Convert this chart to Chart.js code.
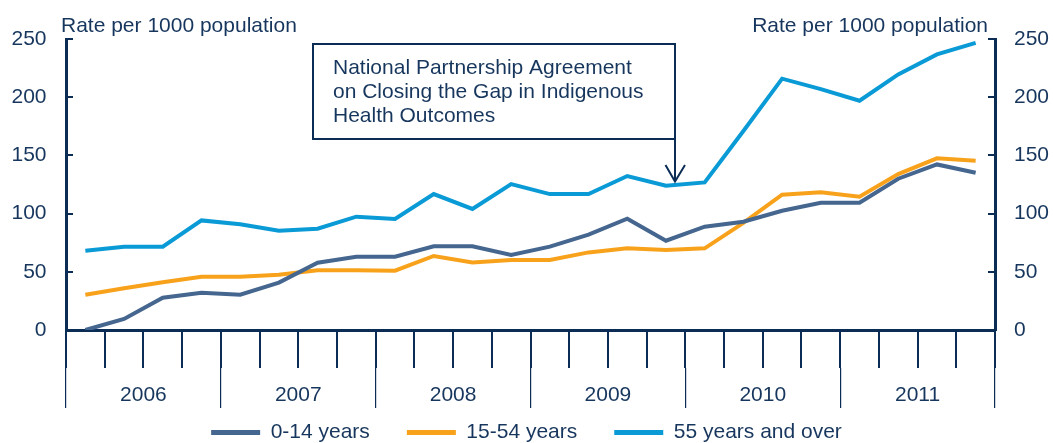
<!DOCTYPE html>
<html>
<head>
<meta charset="utf-8">
<script src="https://cdn.jsdelivr.net/npm/chart.js@4/dist/chart.umd.min.js"></script>
<style>
  html, body { margin: 0; padding: 0; background: #fff; }
  #vis { display: block; }
</style>
</head>
<body>
<canvas id="vis" width="1053" height="443"></canvas>
<script>
// hospitalisation rates, quarterly
const years = ['2006', '2007', '2008', '2009', '2010', '2011'];
const quarters = years.flatMap(y => ['Q1', 'Q2', 'Q3', 'Q4'].map(q => q + ' ' + y));
const yTicks = [0, 50, 100, 150, 200, 250];

const age0to14 = [0, 9.5, 27.8, 32, 30.3, 40.7, 57.8, 63,
                  63, 72, 72, 64.5, 71.6, 82, 95.6, 76.7,
                  88.8, 93, 102.5, 109.4, 109.4, 130, 142.3, 135.2];
const age15to54 = [30.3, 35.8, 41, 45.8, 45.8, 47.5, 51.3, 51.3,
                   51, 63.6, 58.1, 60.1, 60.1, 66.7, 70.2, 68.7,
                   70.2, 92, 116.3, 118.3, 114.5, 134, 147.5, 145.5];
const age55plus = [68.1, 71.6, 71.6, 94.2, 90.8, 85.3, 87, 97.4,
                   95.4, 116.8, 104, 125.4, 116.8, 116.8, 132.3, 124,
                   126.8, 171, 216, 207, 197, 219.7, 236.8, 246.8];

const axisTitle = 'Rate per 1000 population';
const noteLines = ['National Partnership Agreement', 'on Closing the Gap in Indigenous', 'Health Outcomes'];

const NAVY = '#0b2d55';
const TEXT = '#17365d';
const FONT = "'Liberation Sans', Arial, sans-serif";

Chart.defaults.font.family = FONT;
Chart.defaults.font.size = 21;
Chart.defaults.color = TEXT;

function series(label, data, color) {
    return {
        label: label,
        data: data,
        borderColor: color,
        backgroundColor: color,
        borderWidth: 4,
        pointRadius: 0,
        tension: 0,
        fill: false
    };
}

// axis titles and the callout box with its arrow
const extras = {
    id: 'extras',
    afterDraw(chart) {
        const c = chart.ctx;
        c.save();
        c.fillStyle = TEXT;
        c.font = '21px ' + FONT;
        c.textBaseline = 'alphabetic';
        c.textAlign = 'left';
        c.fillText(axisTitle, 61, 32);
        c.textAlign = 'right';
        c.fillText(axisTitle, 988, 32);

        c.strokeStyle = NAVY;
        c.lineWidth = 2;
        c.strokeRect(313, 44, 362, 95);
        c.beginPath();
        c.moveTo(675, 139);
        c.lineTo(675, 181);
        c.moveTo(665.5, 165);
        c.lineTo(675, 181.5);
        c.lineTo(685, 165);
        c.stroke();

        c.textAlign = 'left';
        noteLines.forEach((t, i) => c.fillText(t, 333, 73.5 + i * 24.2));
        c.restore();
    }
};

const ctx = document.getElementById('vis').getContext('2d');
const myChart = new Chart(ctx, {
    type: 'line',
    data: {
        labels: quarters,
        datasets: [
            series('0-14 years', age0to14, '#45668e'),
            series('15-54 years', age15to54, '#f8a21c'),
            series('55 years and over', age55plus, '#0a9ad6')
        ]
    },
    options: {
        responsive: false,
        animation: false,
        layout: { padding: { top: 39, left: 0, right: 0, bottom: 0 } },
        scales: {
            x: {
                type: 'category',
                offset: true,
                ticks: { display: false },
                grid: {
                    offset: true,
                    drawOnChartArea: false,
                    drawTicks: true,
                    tickLength: 38,
                    color: NAVY,
                    lineWidth: 2
                },
                border: { display: true, color: NAVY, width: 3 },
                afterFit(s) { s.height = 38; }
            },
            // year row: long separators, labels pushed down between them
            x2: {
                type: 'category',
                position: 'bottom',
                labels: years,
                offset: true,
                ticks: { mirror: true, padding: -40, color: TEXT },
                grid: {
                    offset: true,
                    drawOnChartArea: false,
                    drawTicks: true,
                    tickLength: 40,
                    color: NAVY,
                    lineWidth: 1.2
                },
                border: { display: false },
                afterFit(s) { s.height = 17; }
            },
            y: {
                position: 'left',
                min: 0,
                max: 250,
                afterBuildTicks(s) { s.ticks = yTicks.map(v => ({ value: v })); },
                ticks: { padding: 26.5, color: TEXT },
                grid: {
                    drawOnChartArea: false,
                    drawTicks: true,
                    tickLength: -7,
                    color: NAVY,
                    lineWidth: 2
                },
                border: { display: true, color: NAVY, width: 3 },
                afterFit(s) { s.width = 66; }
            },
            y2: {
                position: 'right',
                min: 0,
                max: 250,
                afterBuildTicks(s) { s.ticks = yTicks.map(v => ({ value: v })); },
                ticks: { padding: 26, color: TEXT },
                grid: {
                    drawOnChartArea: false,
                    drawTicks: true,
                    tickLength: -7,
                    color: NAVY,
                    lineWidth: 2
                },
                border: { display: true, color: NAVY, width: 3 },
                afterFit(s) { s.width = 58; }
            }
        },
        plugins: {
            tooltip: { enabled: false },
            legend: {
                position: 'bottom',
                maxHeight: 58,
                labels: {
                    boxWidth: 49,
                    boxHeight: 5,
                    padding: 37,
                    color: TEXT,
                    generateLabels(chart) {
                        const items = Chart.defaults.plugins.legend.labels.generateLabels(chart);
                        items.forEach(it => { it.lineWidth = 0; });
                        return items;
                    }
                }
            }
        }
    },
    plugins: [extras]
});
</script>
</body>
</html>
